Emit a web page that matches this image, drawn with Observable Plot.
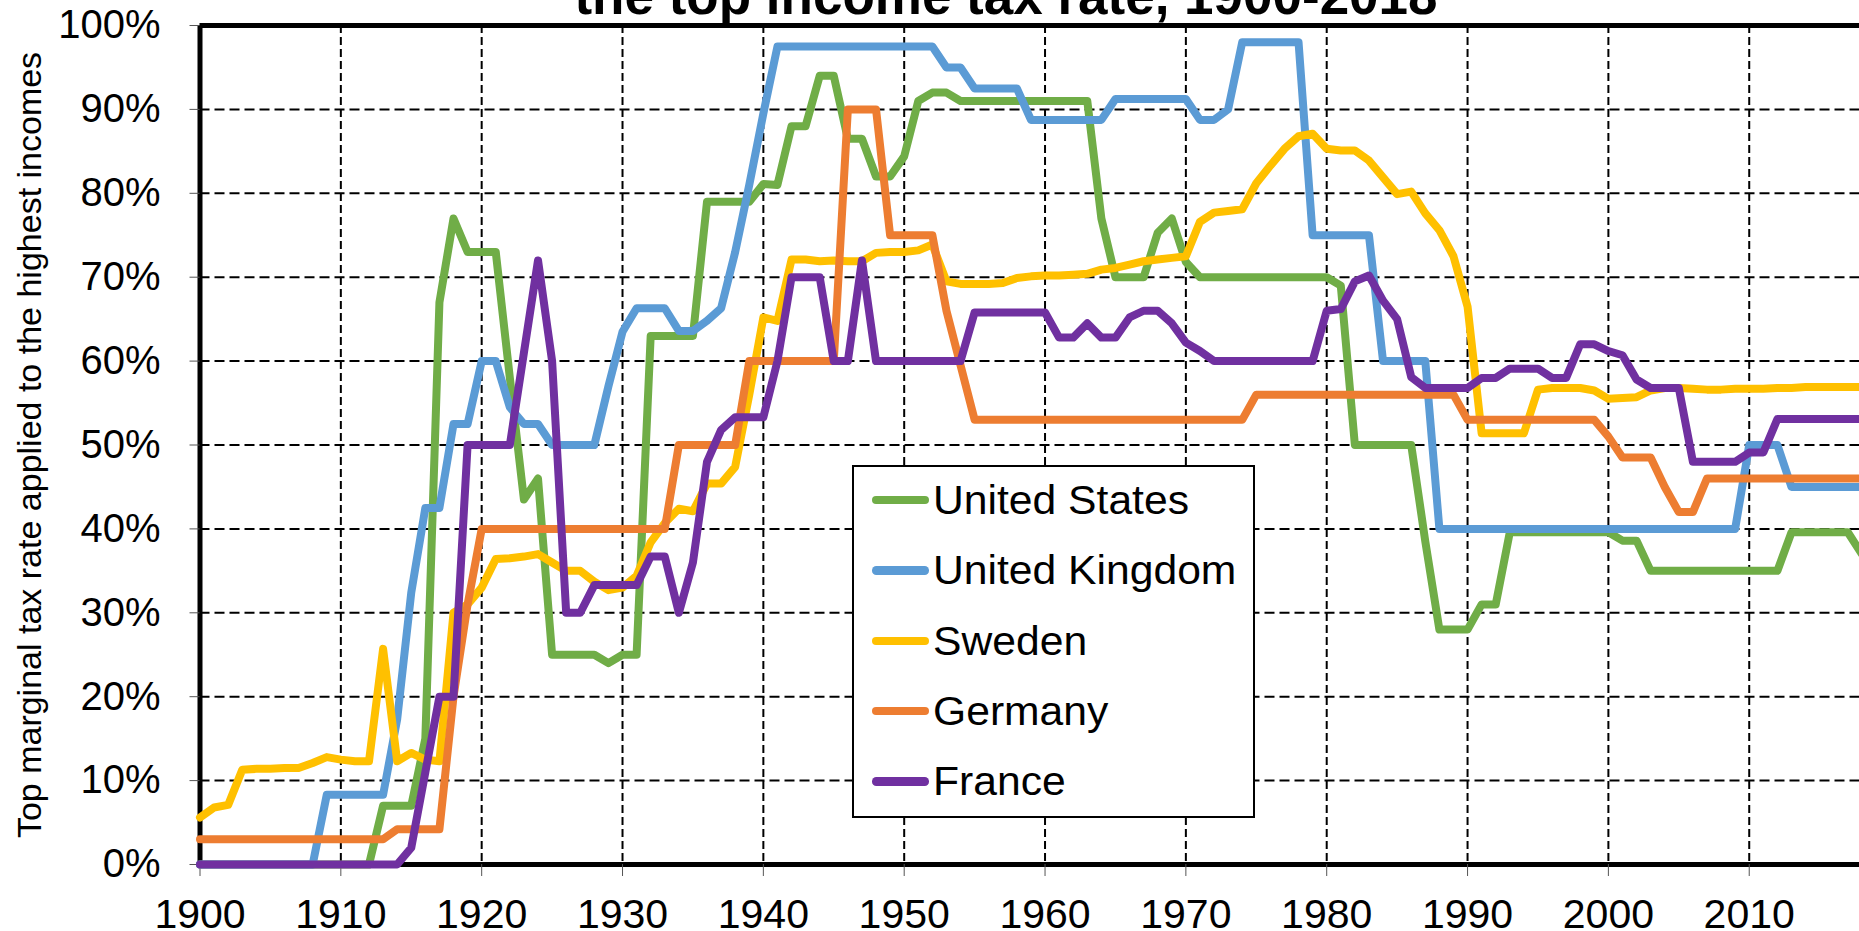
<!DOCTYPE html>
<html>
<head>
<meta charset="utf-8">
<script src="https://cdn.jsdelivr.net/npm/d3@7"></script>
<script src="https://cdn.jsdelivr.net/npm/@observablehq/plot@0.6"></script>
<style>
  html, body { margin: 0; padding: 0; background: #fff; overflow: hidden; width: 1859px; height: 931px; }
  #wrap { position: relative; width: 1859px; height: 931px; overflow: hidden; background: #fff;
          font-family: "Liberation Sans", Arial, sans-serif; }
  #title { position: absolute; left: 0; width: 2012px; top: -31px; text-align: center; font-weight: bold;
           font-size: 53px; line-height: 53px; color: #000; white-space: nowrap; z-index: 2; }
  #legend { position: absolute; left: 852px; top: 465px; width: 399px; height: 349px; border: 2px solid #000;
            background: #fff; z-index: 3; }
  .row { position: absolute; left: 0; height: 70.4px; line-height: 70.4px; font-size: 41px; color: #000; white-space: nowrap; }
  .sw { position: absolute; left: 18px; width: 57px; height: 8.5px; border-radius: 4.25px; top: 30.95px; }
  .lab { position: absolute; left: 79px; top: 0; display: inline-block; transform: scaleX(1.04); transform-origin: 0 50%; }
</style>
</head>
<body>
<div id="wrap">
  <div id="title"></div>
  <div id="legend"></div>
</div>
<script>
// ---------- data ----------
const titleText = "the top income tax rate, 1900-2018";
const yTitle = "Top marginal tax rate applied to the highest incomes";
const countries = ["United States", "United Kingdom", "Sweden", "Germany", "France"];
const colors = ["#70AD47", "#5B9BD5", "#FFC000", "#ED7D31", "#7030A0"];
const years = d3.range(1900, 2019);
const xTicks = [1900, 1910, 1920, 1930, 1940, 1950, 1960, 1970, 1980, 1990, 2000, 2010];
const yTicks = [0, 10, 20, 30, 40, 50, 60, 70, 80, 90, 100];

const unitedStates = [
  0,0,0,0,0,0,0,0,0,0,
  0,0,0,7,7,7,15,67,77,73,
  73,73,58,43.5,46,25,25,25,25,24,
  25,25,63,63,63,63,79,79,79,79,
  81.1,81,88,88,94,94,86.5,86.5,82,82,
  84.4,91,92,92,91,91,91,91,91,91,
  91,91,91,91,77,70,70,70,75.3,77,
  71.8,70,70,70,70,70,70,70,70,70,
  70,69,50,50,50,50,50,38.5,28,28,
  28,31,31,39.6,39.6,39.6,39.6,39.6,39.6,39.6,
  39.6,38.6,38.6,35,35,35,35,35,35,35,
  35,35,35,39.6,39.6,39.6,39.6,39.6,37
];
const unitedKingdom = [
  0,0,0,0,0,0,0,0,0,8.3,
  8.3,8.3,8.3,8.3,17.3,32.4,42.5,42.5,52.5,52.5,
  60,60,54.5,52.5,52.5,50,50,50,50,57,
  63.5,66.3,66.3,66.3,63.6,63.6,64.8,66.3,73,81,
  89.5,97.5,97.5,97.5,97.5,97.5,97.5,97.5,97.5,97.5,
  97.5,97.5,97.5,95,95,92.5,92.5,92.5,92.5,88.75,
  88.75,88.75,88.75,88.75,88.75,91.25,91.25,91.25,91.25,91.25,
  91.25,88.75,88.75,90,98,98,98,98,98,75,
  75,75,75,75,60,60,60,60,40,40,
  40,40,40,40,40,40,40,40,40,40,
  40,40,40,40,40,40,40,40,40,40,
  50,50,50,45,45,45,45,45,45
];
const sweden = [
  5.6,6.8,7.1,11.3,11.4,11.4,11.5,11.5,12.1,12.8,
  12.5,12.3,12.3,25.7,12.3,13.3,12.5,12.3,30,31,
  33,36.4,36.5,36.7,37,36,35,35,33.7,32.7,
  33,34.4,38.4,40.7,42.4,42.1,45.4,45.4,47.4,56,
  65.2,64.8,72.1,72.1,71.9,72,71.9,71.9,72.9,73,
  73,73.2,73.9,69.5,69.2,69.2,69.2,69.3,69.9,70.1,
  70.2,70.2,70.3,70.4,70.9,71.1,71.5,71.9,72.1,72.3,
  72.5,76.6,77.7,77.9,78.1,81.2,83.3,85.3,86.8,87.1,
  85.3,85.1,85.1,83.9,81.9,79.9,80.2,77.6,75.6,72.5,
  66.5,51.4,51.4,51.4,51.4,56.6,56.8,56.8,56.8,56.5,
  55.5,55.6,55.7,56.5,56.8,56.8,56.7,56.6,56.6,56.7,
  56.7,56.7,56.8,56.8,56.9,56.9,56.9,56.9,56.9
];
const germany = [
  3,3,3,3,3,3,3,3,3,3,
  3,3,3,3,4.2,4.2,4.2,4.2,20,31,
  40,40,40,40,40,40,40,40,40,40,
  40,40,40,40,50,50,50,50,50,60,
  60,60,60,60,60,60,90,90,90,75,
  75,75,75,66,59.5,53,53,53,53,53,
  53,53,53,53,53,53,53,53,53,53,
  53,53,53,53,53,56,56,56,56,56,
  56,56,56,56,56,56,56,56,56,56,
  53,53,53,53,53,53,53,53,53,53,
  51,48.5,48.5,48.5,45,42,42,46,46,46,
  46,46,46,46,46,46,46,46,46
];
const france = [
  0,0,0,0,0,0,0,0,0,0,
  0,0,0,0,0,2,11,20,20,50,
  50,50,50,61,72,60,30,30,33.3,33.3,
  33.3,33.3,36.7,36.7,30,36,48,51.8,53.3,53.3,
  53.3,60,70,70,70,60,60,72,60,60,
  60,60,60,60,60,65.8,65.8,65.8,65.8,65.8,
  65.8,62.8,62.8,64.5,62.8,62.8,65.2,66,66,64.5,
  62.2,61.2,60,60,60,60,60,60,60,60,
  66,66.2,69.5,70.2,67.2,65,58.1,56.8,56.8,56.8,
  56.8,58,58,59.1,59.1,59.1,58,58,62,62,
  61.2,60.7,57.8,56.8,56.8,56.8,48,48,48,48,
  49.1,49.1,53.1,53.1,53.1,53.1,53.1,53.1,53.1
];
const seriesValues = [unitedStates, unitedKingdom, sweden, germany, france];

// long table for Plot
const table = [];
countries.forEach((c, i) => years.forEach((y, j) => table.push({country: c, year: y, rate: seriesValues[i][j]})));

const gridY = yTicks.filter(v => v > 0 && v < 100);
const gridX = xTicks.filter(v => v > 1900);

const chart = Plot.plot({
  width: 1880,
  height: 931,
  marginLeft: 199.5,
  marginRight: 18.6,
  marginTop: 25,
  marginBottom: 67,
  style: {fontFamily: "'Liberation Sans', Arial, sans-serif", color: "#000", background: "transparent"},
  x: {domain: [1900, 2018], label: null},
  y: {domain: [0, 100], label: null},
  color: {domain: countries, range: colors},
  marks: [
    Plot.ruleY(gridY, {stroke: "#000", strokeWidth: 2, strokeDasharray: "10,5"}),
    Plot.ruleX(gridX, {stroke: "#000", strokeWidth: 2, strokeDasharray: "8,4"}),
    Plot.ruleY([0], {stroke: "#000", strokeWidth: 5}),
    Plot.ruleY([100], {stroke: "#000", strokeWidth: 5}),
    Plot.ruleX([1900], {stroke: "#000", strokeWidth: 5}),
    Plot.axisX({ticks: xTicks, tickFormat: d => String(d), tickSize: 12, tickPadding: 22, fontSize: 41, stroke: "#555", label: null}),
    Plot.axisY({ticks: yTicks, tickFormat: d => d + "%", tickSize: 10, tickPadding: 29.5, fontSize: 40, stroke: "#555", label: null}),
    Plot.line(table, {x: "year", y: "rate", z: "country", stroke: "country", strokeWidth: 8,
                      strokeLinejoin: "round", strokeLinecap: "round"}),
    Plot.text([yTitle], {text: d => d, frameAnchor: "left", textAnchor: "middle", lineAnchor: "middle",
                         rotate: -90, dx: -170, fontSize: 34, fill: "#000"})
  ]
});
chart.style.maxWidth = "none";
chart.style.position = "absolute";
chart.style.left = "0px";
chart.style.top = "0px";
chart.style.zIndex = "1";
document.getElementById("wrap").appendChild(chart);

document.getElementById("title").textContent = titleText;

const legend = d3.select("#legend");
countries.forEach((c, i) => {
  const row = legend.append("div").attr("class", "row").style("top", (33 - 35.2 + i * 70.4) + "px").style("width", "395px");
  row.append("span").attr("class", "sw").style("background", colors[i]);
  row.append("span").attr("class", "lab").text(c);
});
</script>
</body>
</html>
